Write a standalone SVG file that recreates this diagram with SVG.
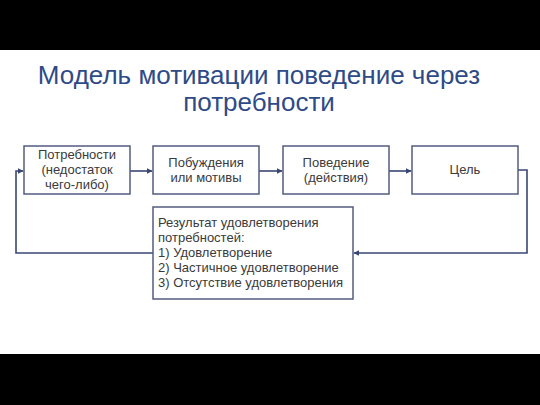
<svg xmlns="http://www.w3.org/2000/svg" width="540" height="405" viewBox="0 0 540 405">
<defs>
<style>
.box{fill:#ffffff;stroke:#545c80;stroke-width:1.5}
.t{font-family:"Liberation Sans",Arial,sans-serif;font-size:13px;fill:#3a3a3a}
.c{text-anchor:middle}
.title{font-family:"Liberation Sans",Arial,sans-serif;font-size:26px;fill:#2f4b87;text-anchor:middle}
.con{fill:none;stroke:#3a4775;stroke-width:1.6}
</style>
<marker id="ah" viewBox="0 0 10 10" refX="9" refY="5" markerWidth="6" markerHeight="6" orient="auto" markerUnits="userSpaceOnUse">
<path d="M0,0 L10,5 L0,10 z" fill="#3a4775"/>
</marker>
</defs>
<rect x="0" y="0" width="540" height="405" fill="#ffffff"/>
<rect x="0" y="0" width="540" height="50" fill="#000000"/>
<rect x="0" y="354" width="540" height="51" fill="#000000"/>
<g id="title">
<text class="title" x="259" y="84">Модель мотивации поведение через</text>
<text class="title" x="259" y="111">потребности</text>
</g>
<g id="connectors">
<path class="con" d="M130,171 L152,171" marker-end="url(#ah)"/>
<path class="con" d="M259,171 L282,171" marker-end="url(#ah)"/>
<path class="con" d="M389,171 L411,171" marker-end="url(#ah)"/>
<path class="con" d="M518,170 L527,170 L527,253 L354,253" marker-end="url(#ah)"/>
<path class="con" d="M153,253 L16,253 L16,171 L23,171" marker-end="url(#ah)"/>
</g>
<g id="needs">
<rect class="box" x="24" y="146" width="106" height="48"/>
<text class="t c" x="77" y="159">Потребности</text>
<text class="t c" x="77" y="174">(недостаток</text>
<text class="t c" x="77" y="189">чего-либо)</text>
</g>
<g id="motives">
<rect class="box" x="153" y="146" width="106" height="48"/>
<text class="t c" x="206" y="167">Побуждения</text>
<text class="t c" x="206" y="182">или мотивы</text>
</g>
<g id="behavior">
<rect class="box" x="283" y="146" width="106" height="48"/>
<text class="t c" x="336" y="167">Поведение</text>
<text class="t c" x="336" y="182">(действия)</text>
</g>
<g id="goal">
<rect class="box" x="412" y="146" width="106" height="48"/>
<text class="t c" x="465" y="174">Цель</text>
</g>
<g id="result">
<rect class="box" x="153" y="207" width="200" height="92"/>
<text class="t" x="158" y="227">Результат удовлетворения</text>
<text class="t" x="158" y="242">потребностей:</text>
<text class="t" x="158" y="257">1) Удовлетворение</text>
<text class="t" x="158" y="272">2) Частичное удовлетворение</text>
<text class="t" x="158" y="287">3) Отсутствие удовлетворения</text>
</g>
</svg>
